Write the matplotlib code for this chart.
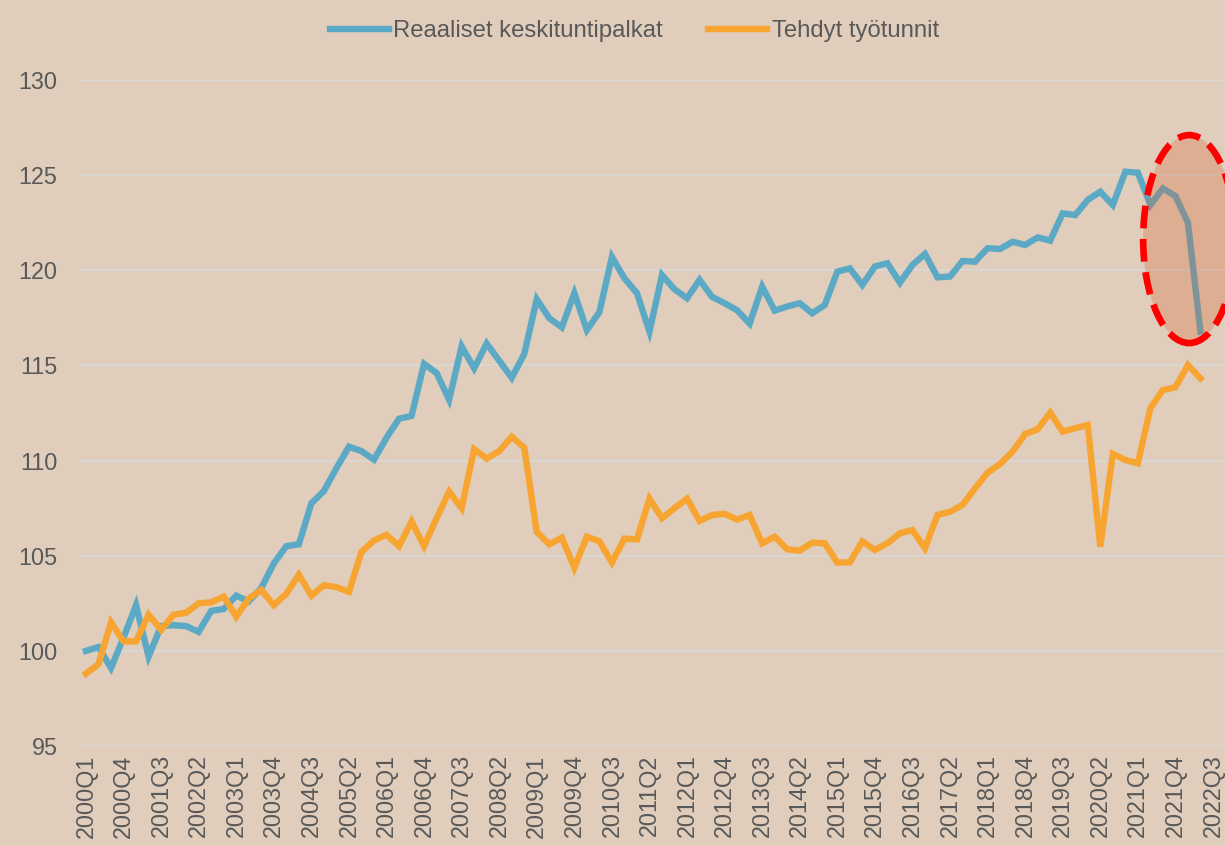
#!/usr/bin/env python3
"""
plot.py - real hourly wages vs. hours worked, index 2000Q1 = 100.
Saves out.png (1225x846).
"""

import matplotlib
matplotlib.use("Agg")
import matplotlib.pyplot as plt
from matplotlib.patches import Ellipse

# ------------------------------------------------------------------
# Data
# ------------------------------------------------------------------
quarters = [f"{y}Q{q}" for y in range(2000, 2023) for q in range(1, 5)][:91]   # 2000Q1 .. 2022Q3

wages = [
    100.0, 100.2, 99.1, 100.7, 102.4, 99.7, 101.3, 101.35, 101.3, 101.0,
    102.1, 102.2, 102.9, 102.6, 103.3, 104.6, 105.5, 105.6, 107.75, 108.4,
    109.6, 110.73, 110.5, 110.05, 111.2, 112.2, 112.35, 115.08, 114.6, 113.2,
    116.0, 114.85, 116.15, 115.25, 114.35, 115.6, 118.48, 117.48, 117.0, 118.8,
    116.86, 117.8, 120.7, 119.58, 118.8, 116.78, 119.75, 119.0, 118.53, 119.5,
    118.6, 118.27, 117.9, 117.2, 119.14, 117.88, 118.1, 118.27, 117.74, 118.18,
    119.93, 120.1, 119.23, 120.2, 120.37, 119.35, 120.28, 120.86, 119.63, 119.67,
    120.49, 120.45, 121.16, 121.12, 121.5, 121.33, 121.73, 121.56, 122.99, 122.9,
    123.7, 124.13, 123.43, 125.18, 125.13, 123.43, 124.3, 123.9, 122.5, 116.78,
]

hours = [
    98.8, 99.3, 101.5, 100.5, 100.5, 101.9, 101.1, 101.9, 102.0, 102.5,
    102.55, 102.85, 101.8, 102.75, 103.2, 102.4, 103.0, 104.0, 102.9, 103.45,
    103.35, 103.1, 105.2, 105.8, 106.1, 105.5, 106.8, 105.5, 106.97, 108.37,
    107.5, 110.6, 110.1, 110.5, 111.25, 110.68, 106.25, 105.6, 105.95, 104.37,
    106.0, 105.76, 104.64, 105.9, 105.86, 108.0, 106.97, 107.5, 108.0, 106.83,
    107.14, 107.2, 106.9, 107.14, 105.65, 106.0, 105.34, 105.27, 105.69, 105.65,
    104.64, 104.65, 105.75, 105.3, 105.65, 106.18, 106.35, 105.39, 107.14, 107.31,
    107.67, 108.54, 109.36, 109.82, 110.47, 111.4, 111.64, 112.52, 111.52, 111.7,
    111.87, 105.48, 110.35, 110.03, 109.86, 112.75, 113.71, 113.85, 115.02, 114.32,
]

labels = ["Reaaliset keskituntipalkat", "Tehdyt työtunnit"]
yticks = [95, 100, 105, 110, 115, 120, 125, 130]

# ------------------------------------------------------------------
# Style
# ------------------------------------------------------------------
BG = "#E0CDBB"
TXT = "#595959"
BLUE = "#5BA9C4"
ORANGE = "#F7A530"
FS = 16.8
LEG_FS = 17.2

plt.rcParams["font.family"] = ["Liberation Sans", "DejaVu Sans"]

fig = plt.figure(figsize=(12.25, 8.46), dpi=100, facecolor=BG)
ax = fig.add_axes([79.7 / 1225, 1 - 746 / 846, 1 - 79.7 / 1225, (746 - 80) / 846])
ax.set_facecolor(BG)

x = list(range(len(wages)))
ax.plot(x, wages, color=BLUE, lw=4.6, solid_joinstyle="miter", label=labels[0], zorder=3)
ax.plot(x, hours, color=ORANGE, lw=4.6, solid_joinstyle="miter", label=labels[1], zorder=3)

# highlight of the last drop
ax.add_patch(Ellipse((88.1, 121.64), 7.35, 10.93, facecolor="#D9602A", alpha=0.28,
                     edgecolor="none", zorder=4))
ax.add_patch(Ellipse((88.1, 121.64), 7.35, 10.93, facecolor="none", edgecolor="#FF0000",
                     lw=4.8, linestyle=(0, (3.4, 1.6)), zorder=5, clip_on=False))

ax.set_xlim(-0.5, 90.96)
ax.set_ylim(95, 130)
ax.set_yticks(yticks)
ax.set_xticks(range(0, len(quarters), 3))
ax.set_xticklabels(quarters[::3], rotation=90)
ax.tick_params(axis="both", length=0, labelsize=FS, labelcolor=TXT)
ax.tick_params(axis="y", pad=16)
ax.tick_params(axis="x", pad=6)
ax.grid(axis="y", color="#DAD6D2", lw=1.6, zorder=1)
for s in ax.spines.values():
    s.set_visible(False)

fig.legend(loc="center", bbox_to_anchor=(0.518, 1 - 31 / 846), ncol=2, frameon=False,
           fontsize=LEG_FS, labelcolor=TXT, handlelength=2.45, handletextpad=0.2,
           columnspacing=1.9)

fig.savefig("out.png", dpi=100, facecolor=BG)
